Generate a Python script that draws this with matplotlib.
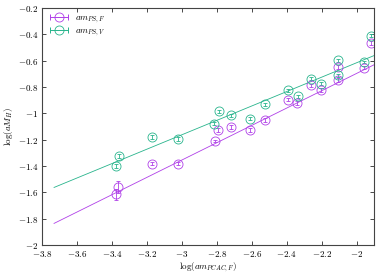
import matplotlib
matplotlib.use("Agg")
import matplotlib.pyplot as plt
import numpy as np
from matplotlib.lines import Line2D
from matplotlib.legend_handler import HandlerLine2D, HandlerTuple
from matplotlib.ticker import FuncFormatter, MultipleLocator

plt.rcParams["mathtext.fontset"] = "cm"
plt.rcParams["font.family"] = "serif"
plt.rcParams["font.serif"] = ["DejaVu Serif"]

# --- data ---
x_f = [-3.374, -3.365, -3.168, -3.021, -2.811, -2.792, -2.721, -2.607, -2.521,
       -2.392, -2.340, -2.258, -2.204, -2.105, -2.105, -1.958, -1.918]
y_f = [-1.616, -1.558, -1.381, -1.381, -1.210, -1.129, -1.104, -1.123, -1.048,
       -0.896, -0.924, -0.788, -0.826, -0.650, -0.750, -0.654, -0.465]
err_f = [0.040, 0.045, 0.015, 0.015, 0.010, 0.015, 0.015, 0.015, 0.015,
         0.012, 0.015, 0.012, 0.015, 0.015, 0.015, 0.012, 0.015]

x_v = [-3.361, -3.374, -3.168, -3.021, -2.817, -2.788, -2.720, -2.607, -2.521,
       -2.392, -2.334, -2.258, -2.204, -2.105, -2.105, -1.958, -1.918]
y_v = [-1.323, -1.399, -1.180, -1.195, -1.078, -0.983, -1.015, -1.040, -0.932,
       -0.826, -0.871, -0.737, -0.775, -0.598, -0.712, -0.611, -0.409]
err_v = [0.015, 0.015, 0.012, 0.012, 0.012, 0.012, 0.012, 0.012, 0.012,
         0.010, 0.012, 0.010, 0.012, 0.012, 0.012, 0.010, 0.012]

# linear fits (slope, intercept) and their x range
fit_f = (0.658, 0.619)
fit_v = (0.547, 0.478)
fit_range = (-3.731, -1.90)

C_F = "#b040e8"
C_V = "#28b48c"

fig = plt.figure(figsize=(3.9, 2.73), dpi=100)
ax = fig.add_axes([0.1077, 0.1026, 0.8513, 0.868])

xf = np.linspace(*fit_range, 2)
ax.plot(xf, fit_f[0] * xf + fit_f[1], color=C_F, lw=0.6)
ax.plot(xf, fit_v[0] * xf + fit_v[1], color=C_V, lw=0.6)

handles, labels, hmap = [], [], {}
for x, y, e, c, lab in [(x_f, y_f, err_f, C_F, r"$am_{PS,F}$"),
                        (x_v, y_v, err_v, C_V, r"$am_{PS,V}$")]:
    ax.errorbar(x, y, yerr=e, fmt="o", mfc="none", mec=c, color=c, ms=6.5,
                mew=0.6, elinewidth=0.6, capsize=1.2, capthick=0.6)
    # gnuplot-style key: horizontal bar with end caps and an open circle
    h_bar = Line2D([], [], color=c, lw=0.7, marker="|", ms=4, mew=0.7)
    h_dot = Line2D([], [], color=c, lw=0, marker="o", mfc="none", ms=6.5, mew=0.6)
    hmap[h_bar] = HandlerLine2D(numpoints=2)
    hmap[h_dot] = HandlerLine2D(numpoints=1)
    handles.append((h_bar, h_dot))
    labels.append(lab)
hmap[tuple] = HandlerTuple(ndivide=1)

ax.set_xlim(-3.8, -1.9)
ax.set_ylim(-2, -0.2)
ax.xaxis.set_major_locator(MultipleLocator(0.2))
ax.yaxis.set_major_locator(MultipleLocator(0.2))
fmt = FuncFormatter(lambda v, p: "$%g$" % round(v, 2))
ax.xaxis.set_major_formatter(fmt)
ax.yaxis.set_major_formatter(fmt)
ax.tick_params(direction="in", top=True, right=True, labelsize=6.5,
               length=3, width=0.5, pad=3)
for s in ax.spines.values():
    s.set_linewidth(0.8)
    s.set_color("#444444")

ax.set_xlabel(r"$\log(am_{PCAC,F})$", fontsize=6.5, labelpad=1)
ax.set_ylabel(r"$\log(aM_H)$", fontsize=6.5, labelpad=2)

ax.legend(handles, labels, handler_map=hmap, loc="upper left", fontsize=6.5,
          frameon=False, handlelength=2.6, handletextpad=0.4,
          labelspacing=0.1, borderaxespad=0.3, borderpad=0.3)

fig.savefig("out.png", dpi=100)
